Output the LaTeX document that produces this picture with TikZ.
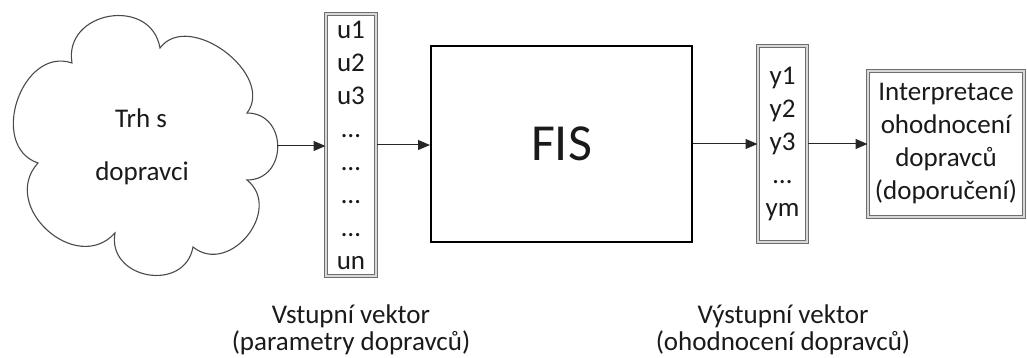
\documentclass[tikz,border=0pt]{standalone}
\usepackage{fontspec}
\setmainfont{Carlito}
\usetikzlibrary{arrows.meta,calc}
\definecolor{txt}{HTML}{1A1A1A}
\definecolor{dbl}{HTML}{6E6E6E}
\definecolor{dblin}{HTML}{D8D8D8}
\definecolor{cloudline}{HTML}{4A4A4A}
\tikzset{
  lbl/.style={font=\fontsize{27}{33}\selectfont, text=txt},
  vecbox/.style={draw=dbl, line width=1pt, double=dblin, double distance=1.4pt,
    fill=white, inner sep=0pt, align=center, lbl},
  arr/.style={draw=black!85, line width=1pt, -{Triangle[length=12pt,width=10pt]}},
  cloudpath/.style={draw=cloudline, line width=1.1pt, fill=white},
}
\begin{document}
\begin{tikzpicture}[x=1pt,y=-1pt]
\useasboundingbox (0,0) rectangle (1027,358);
% cloud junction points
\coordinate (j1) at (72,63);
\coordinate (j2) at (160,48);
\coordinate (j3) at (247,113);
\coordinate (j4) at (247,180);
\coordinate (j5) at (193,247);
\coordinate (j6) at (115,233);
\coordinate (j7) at (38,163);
\path[cloudpath] (j1)
  .. controls ($(j1)!53pt!90:(j2)$) and ($(j2)!53pt!-90:(j1)$) .. (j2)
  .. controls ($(j2)!48pt!90:(j3)$) and ($(j3)!48pt!-90:(j2)$) .. (j3)
  .. controls ($(j3)!41pt!90:(j4)$) and ($(j4)!41pt!-90:(j3)$) .. (j4)
  .. controls ($(j4)!47pt!90:(j5)$) and ($(j5)!47pt!-90:(j4)$) .. (j5)
  .. controls ($(j5)!47pt!90:(j6)$) and ($(j6)!47pt!-90:(j5)$) .. (j6)
  .. controls ($(j6)!58pt!90:(j7)$) and ($(j7)!58pt!-90:(j6)$) .. (j7)
  .. controls ($(j7)!53pt!90:(j1)$) and ($(j1)!53pt!-90:(j7)$) .. (j1) -- cycle;
\node[lbl, anchor=base] (trh) at (141,128) {Trh s};
\node[lbl, anchor=base] (dop) at (142,180) {dopravci};
\coordinate (cloudE) at (277,146);
\node[vecbox, minimum width=50pt, minimum height=262pt] (u) at (351,145)
  {u1\\u2\\u3\\…\\…\\…\\…\\un};
\node[draw=black, line width=2pt, fill=white, minimum width=261pt, minimum height=196pt,
  inner sep=0pt, font=\fontsize{52}{60}\selectfont, text=txt] (fis) at (561.5,144) {FIS};
\node[vecbox, minimum width=49pt, minimum height=196pt] (y) at (782.5,144)
  {y1\\y2\\y3\\…\\ym};
\node[vecbox, minimum width=156pt, minimum height=146pt] (interp) at (946,144)
  {Interpretace\\ohodnocení\\dopravců\\(doporučení)};
\node[lbl, anchor=base] (in1) at (351,323) {Vstupní vektor};
\node[lbl, anchor=base] (in2) at (351,350) {(parametry dopravců)};
\node[lbl, anchor=base] (out1) at (783,323) {Výstupní vektor};
\node[lbl, anchor=base] (out2) at (783,350) {(ohodnocení dopravců)};
\draw[arr] (cloudE) -- (u.west |- cloudE);
\draw[arr] (u.east) -- (fis.west |- u.east);
\draw[arr] (fis.east) -- (y.west);
\draw[arr] (y.east) -- (interp.west);
\end{tikzpicture}
\end{document}
